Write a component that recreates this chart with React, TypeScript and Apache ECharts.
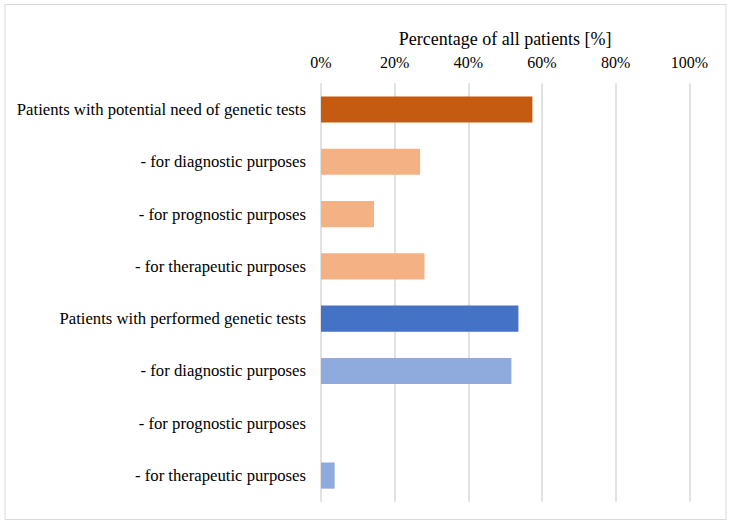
import React, { useEffect, useRef } from "react";
import * as echarts from "echarts";

const categories = [
  "Patients with potential need of genetic tests",
  "- for diagnostic purposes",
  "- for prognostic purposes",
  "- for therapeutic purposes",
  "Patients with performed genetic tests",
  "- for diagnostic purposes",
  "- for prognostic purposes",
  "- for therapeutic purposes",
];
const values = [57.4, 26.9, 14.4, 28.1, 53.6, 51.7, 0, 3.7];
const barColors = ["#C55A11", "#F4B183", "#F4B183", "#F4B183", "#4472C4", "#8FAADC", "#8FAADC", "#8FAADC"];
const axisName = "Percentage of all patients [%]";

export default function App() {
  const ref = useRef<HTMLDivElement>(null);
  useEffect(() => {
    if (!ref.current) return;
    const chart = echarts.init(ref.current, null, { renderer: "svg" });
    const font = "Liberation Serif";
    chart.setOption({
      animation: false,
      backgroundColor: "#ffffff",
      textStyle: { fontFamily: font },
      graphic: [
        {
          type: "rect",
          shape: { x: 5, y: 4.5, width: 721, height: 515 },
          style: { fill: "none", stroke: "#D9D9D9", lineWidth: 1 },
          silent: true,
        },
      ],
      grid: { left: 321, right: 41.7, top: 83.3, height: 418.4, containLabel: false },
      xAxis: {
        type: "value",
        position: "top",
        min: 0,
        max: 100,
        interval: 20,
        name: axisName,
        nameLocation: "middle",
        nameGap: 35,
        nameTextStyle: { fontFamily: font, fontSize: 18, color: "#000" },
        axisLine: { show: false },
        axisTick: { show: false },
        axisLabel: { formatter: "{value}%", fontFamily: font, fontSize: 16, color: "#000", margin: 13 },
        splitLine: { show: true, lineStyle: { color: "#D9D9D9", width: 1.5 } },
      },
      yAxis: {
        type: "category",
        inverse: true,
        data: categories,
        axisLine: { show: false },
        axisTick: { show: false },
        axisLabel: { fontFamily: font, fontSize: 16.7, color: "#000", margin: 15 },
      },
      series: [
        {
          type: "bar",
          barCategoryGap: "50%",
          data: values.map((v, i) => ({ value: v, itemStyle: { color: barColors[i] } })),
        },
      ],
    });
    return () => chart.dispose();
  }, []);
  return <div ref={ref} style={{ width: 731, height: 528, position: "absolute", left: 0, top: 0 }} />;
}
